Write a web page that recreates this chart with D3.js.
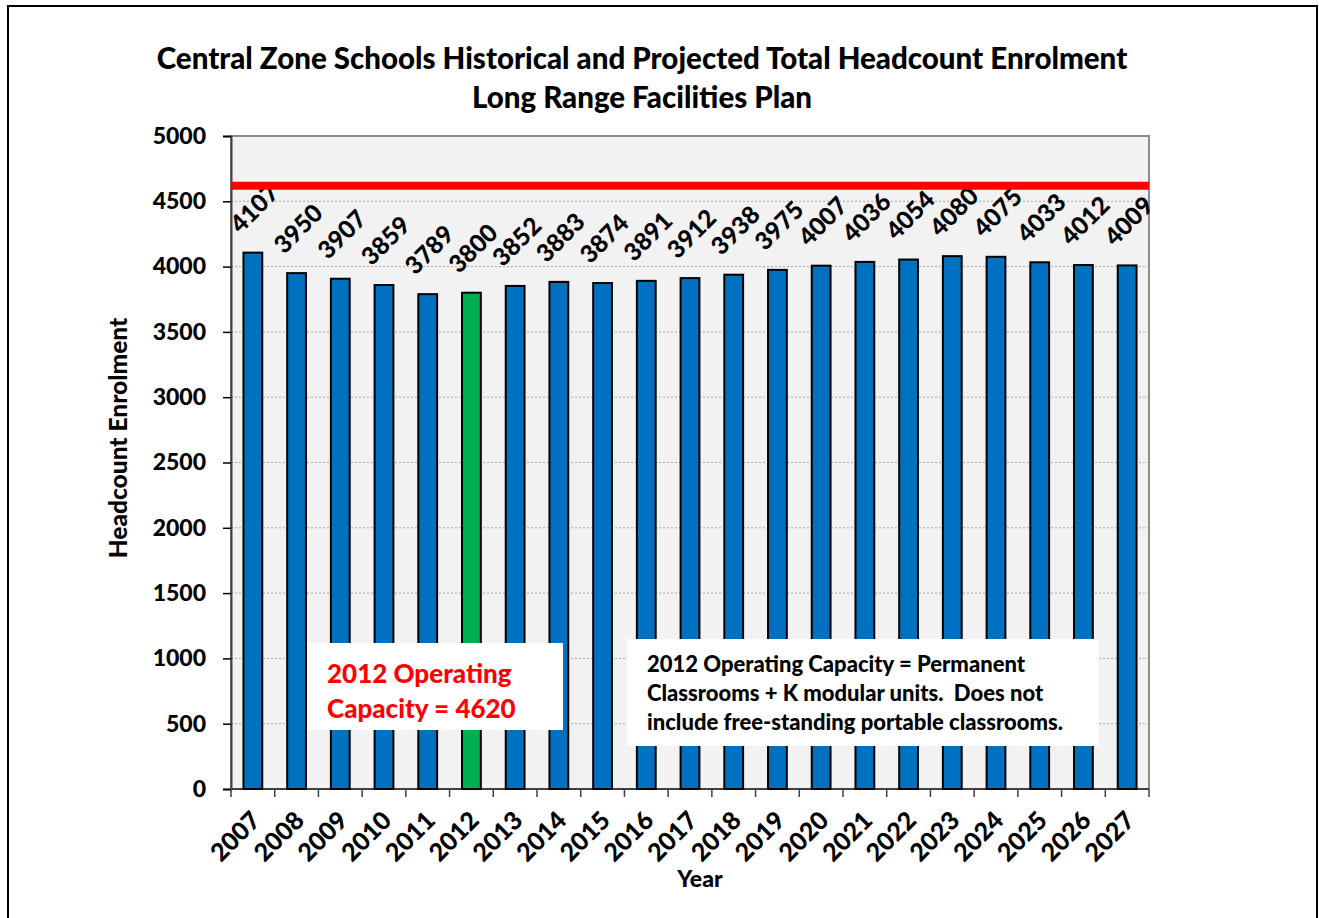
<!DOCTYPE html>
<html>
<head>
<meta charset="utf-8">
<script src="https://cdn.jsdelivr.net/npm/d3@7.9.0/dist/d3.min.js"></script>
<style>
  body { margin: 0; background: #fff; }
  svg { display: block; font-family: Lato, "Open Sans", sans-serif; font-weight: 900; }
  text { white-space: pre; }
</style>
</head>
<body>
<svg id="chart" width="1319" height="918"></svg>
<script>
// chart data
const years = ["2007","2008","2009","2010","2011","2012","2013","2014","2015","2016","2017",
  "2018","2019","2020","2021","2022","2023","2024","2025","2026","2027"];
const enrolment = [4107,3950,3907,3859,3789,3800,3852,3883,3874,3891,3912,
  3938,3975,4007,4036,4054,4080,4075,4033,4012,4009];
const highlightYear = "2012";
const capacity = 4620;
const yTicks = [0,500,1000,1500,2000,2500,3000,3500,4000,4500,5000];

const titleLines = ["Central Zone Schools Historical and Projected Total Headcount Enrolment",
  "Long Range Facilities Plan"];
const capacityNote = ["2012 Operating", "Capacity = 4620"];
const definitionNote = ["2012 Operating Capacity = Permanent",
  "Classrooms + K modular units.  Does not",
  "include free-standing portable classrooms."];

const svg = d3.select("#chart");
const plot = { left: 231, right: 1149, top: 136, bottom: 789 };

// outer frame
svg.append("rect").attr("x", 8).attr("y", 6).attr("width", 1309).attr("height", 930)
  .attr("fill", "none").attr("stroke", "#000").attr("stroke-width", 2);

let x = d3.scaleBand().domain(years).range([plot.left, plot.right]).paddingInner(0).paddingOuter(0);
let y = d3.scaleLinear().domain([0, 5000]).range([plot.bottom, plot.top]);

// plot background
svg.append("rect").attr("x", plot.left).attr("y", plot.top)
  .attr("width", plot.right - plot.left).attr("height", plot.bottom - plot.top)
  .attr("fill", "#f2f2f2").attr("stroke", "#8c8c8c").attr("stroke-width", 2);

// gridlines
svg.append("g").selectAll("line").data(yTicks.filter(d => d > 0 && d < 5000)).join("line")
  .attr("x1", plot.left).attr("x2", plot.right)
  .attr("y1", d => y(d)).attr("y2", d => y(d))
  .attr("stroke", "#a6a6a6").attr("stroke-width", 1).attr("stroke-dasharray", "2,2");

// y axis
let yAxis = svg.append("g").attr("transform", `translate(${plot.left},0)`)
  .call(d3.axisLeft(y).tickValues(yTicks).tickFormat(d3.format("d")).tickSize(8).tickPadding(17));
yAxis.select(".domain").attr("stroke", "#404040").attr("stroke-width", 2);
yAxis.selectAll(".tick line").attr("stroke", "#000").attr("stroke-width", 1.5);
yAxis.selectAll("text").attr("font-size", 23).attr("font-family", "Lato, sans-serif")
  .attr("font-weight", 900).attr("fill", "#000");

// x axis: ticks at category boundaries
let bounds = years.map(d => x(d)).concat([plot.right]);
let xAxis = svg.append("g");
xAxis.append("line").attr("x1", plot.left).attr("x2", plot.right)
  .attr("y1", plot.bottom).attr("y2", plot.bottom).attr("stroke", "#404040").attr("stroke-width", 2);
xAxis.selectAll(".tk").data(bounds).join("line").attr("class", "tk")
  .attr("x1", d => d).attr("x2", d => d).attr("y1", plot.bottom).attr("y2", plot.bottom + 8)
  .attr("stroke", "#404040").attr("stroke-width", 1.5);
xAxis.selectAll("text").data(years).join("text")
  .attr("transform", d => `translate(${x(d) + x.bandwidth() / 2 + 2},${plot.bottom + 26}) rotate(-45)`)
  .attr("text-anchor", "end").attr("dominant-baseline", "central")
  .attr("font-size", 25).text(d => d);

// bars
const barW = x.bandwidth() * 0.43;
svg.append("g").selectAll("rect").data(years).join("rect")
  .attr("x", d => x(d) + (x.bandwidth() - barW) / 2)
  .attr("y", (d, i) => y(enrolment[i]))
  .attr("width", barW)
  .attr("height", (d, i) => y(0) - y(enrolment[i]))
  .attr("fill", d => d === highlightYear ? "#00b050" : "#0070c0")
  .attr("stroke", "#000").attr("stroke-width", 2);

// value labels
svg.append("g").selectAll("text").data(years).join("text")
  .attr("transform", (d, i) => `translate(${x(d) + x.bandwidth() / 2 + 1},${y(enrolment[i]) - 45}) rotate(-45)`)
  .attr("text-anchor", "middle").attr("dominant-baseline", "central")
  .attr("font-size", 24.5).text((d, i) => enrolment[i]);

// capacity line
svg.append("line").attr("x1", plot.left).attr("x2", plot.right)
  .attr("y1", y(capacity)).attr("y2", y(capacity))
  .attr("stroke", "#ff0000").attr("stroke-width", 8);

// annotation boxes
svg.append("rect").attr("x", 307).attr("y", 643).attr("width", 256).attr("height", 87).attr("fill", "#fff");
svg.append("g").selectAll("text").data(capacityNote).join("text")
  .attr("x", 327).attr("y", (d, i) => 683 + i * 35)
  .attr("font-size", 26).attr("fill", "#ff0000").text(d => d);

svg.append("rect").attr("x", 627).attr("y", 639).attr("width", 472).attr("height", 107).attr("fill", "#fff");
svg.append("g").selectAll("text").data(definitionNote).join("text")
  .attr("x", 647).attr("y", (d, i) => 672 + i * 29)
  .attr("font-size", 22).attr("fill", "#000").text(d => d);

// titles
svg.append("g").selectAll("text").data(titleLines).join("text")
  .attr("x", 642).attr("y", (d, i) => 69 + i * 39)
  .attr("text-anchor", "middle").attr("font-size", 29.5).text(d => d);

svg.append("text").attr("transform", "translate(127,438) rotate(-90)")
  .attr("text-anchor", "middle").attr("font-size", 24.5).text("Headcount Enrolment");

svg.append("text").attr("x", 700).attr("y", 887)
  .attr("text-anchor", "middle").attr("font-size", 23).text("Year");
</script>
</body>
</html>
